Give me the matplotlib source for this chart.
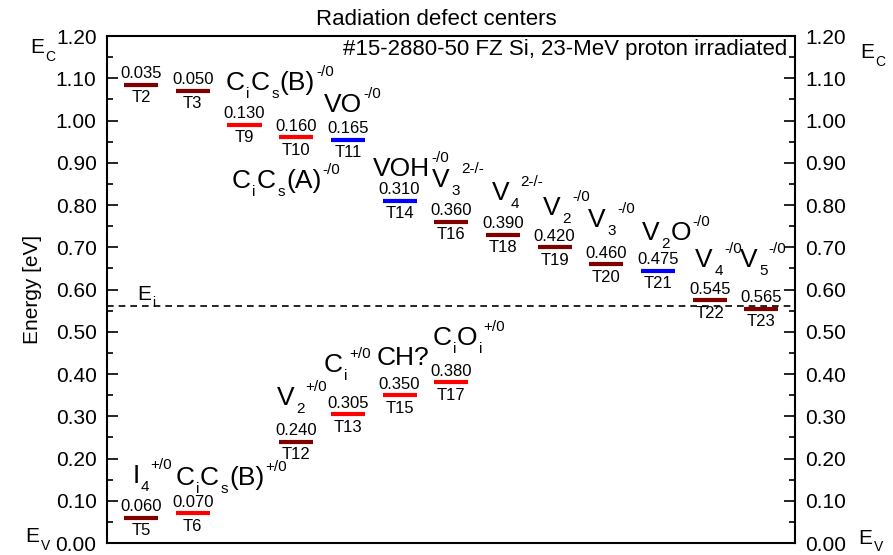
import matplotlib
matplotlib.use("Agg")
import matplotlib.pyplot as plt
from matplotlib.ticker import MultipleLocator, FormatStrFormatter

plt.rcParams['font.family'] = ['Liberation Sans', 'DejaVu Sans']

EG = 1.12
EI = 0.56

# electron traps (energy below Ec)
e_names = ["T2", "T3", "T9", "T10", "T11", "T14", "T16", "T18", "T19", "T20", "T21", "T22", "T23"]
e_depth = [0.035, 0.050, 0.130, 0.160, 0.165, 0.310, 0.360, 0.390, 0.420, 0.460, 0.475, 0.545, 0.565]
e_col = [0, 1, 2, 3, 4, 5, 6, 7, 8, 9, 10, 11, 12]
e_kind = ["d", "d", "r", "r", "b", "b", "d", "d", "d", "d", "b", "d", "d"]

# hole traps (energy above Ev)
h_names = ["T5", "T6", "T12", "T13", "T15", "T17"]
h_depth = [0.060, 0.070, 0.240, 0.305, 0.350, 0.380]
h_col = [0, 1, 3, 4, 5, 6]
h_kind = ["d", "r", "d", "r", "r", "r"]

colors = {"d": "#800000", "r": "#ff0000", "b": "#0000ff"}

# defect identification labels (text, x, y); _x = subscript, ^{..} = superscript
defects = [
    ("C_iC_s(B)^{-/0}", 1.64, 1.072),
    ("VO^{-/0}", 3.54, 1.020),
    ("C_iC_s(A)^{-/0}", 1.76, 0.840),
    ("VOH^{-/0}", 4.49, 0.869),
    ("V_3^{2-/-}", 5.63, 0.843),
    ("V_4^{2-/-}", 6.79, 0.812),
    ("V_2^{-/0}", 7.78, 0.776),
    ("V_3^{-/0}", 8.65, 0.748),
    ("V_2O^{-/0}", 9.69, 0.717),
    ("V_4^{-/0}", 10.72, 0.653),
    ("V_5^{-/0}", 11.59, 0.653),
    ("I_4^{+/0}", -0.17, 0.142),
    ("C_iC_s(B)^{+/0}", 0.66, 0.137),
    ("V_2^{+/0}", 2.63, 0.327),
    ("C_i^{+/0}", 3.54, 0.405),
    ("CH?", 4.56, 0.421),
    ("C_iO_i^{+/0}", 5.63, 0.469),
]

fig = plt.figure(figsize=(8.93, 5.55), dpi=100)
ax = fig.add_axes([0.1198, 0.0216, 0.7705, 0.9135])
renderer = fig.canvas.get_renderer()


def parse(s):
    out = []
    buf = ""
    i = 0
    while i < len(s):
        c = s[i]
        if c == "_":
            if buf:
                out.append((buf, "n"))
                buf = ""
            out.append((s[i + 1], "sub"))
            i += 2
        elif c == "^":
            if buf:
                out.append((buf, "n"))
                buf = ""
            j = s.index("}", i)
            out.append((s[i + 2:j], "sup"))
            i = j + 1
        else:
            buf += c
            i += 1
    if buf:
        out.append((buf, "n"))
    return out


# origin-style label: pieces written one after the other
def rich_text(x, y, s, size=19, small=11, sub_dy=-6, sup_dy=10, coords="data"):
    dx = 0
    for txt, kind in parse(s):
        if kind == "n":
            fs, dy = size, 0
        elif kind == "sub":
            fs, dy = small, sub_dy
        else:
            fs, dy = small, sup_dy
        t = ax.annotate(txt, (x, y), xycoords=coords, xytext=(dx, dy),
                        textcoords="offset points", fontsize=fs,
                        ha="left", va="baseline", annotation_clip=False)
        w = t.get_window_extent(renderer).width * 72 / fig.dpi
        dx += w + (1 if kind == "n" else 0.8)


hw = 0.33


def draw_level(x, y, depth, name, kind):
    ax.plot([x - hw, x + hw], [y, y], color=colors[kind], lw=3, solid_capstyle="butt")
    ax.annotate("%.3f" % depth, (x, y), xytext=(0, 2.5), textcoords="offset points",
                ha="center", va="bottom", fontsize=12)
    ax.annotate(name, (x, y), xytext=(0, -4), textcoords="offset points",
                ha="center", va="top", fontsize=12)


for n, d, c, k in zip(e_names, e_depth, e_col, e_kind):
    draw_level(c, EG - d, d, n, k)
for n, d, c, k in zip(h_names, h_depth, h_col, h_kind):
    draw_level(c, d, d, n, k)

ax.axhline(EI, color="black", ls=(0, (4, 3)), lw=1.2)

ax.set_xlim(-0.66, 12.65)
ax.set_ylim(0, 1.2)
ax.set_xticks([])

for txt, x, y in defects:
    rich_text(x, y, txt)

rich_text(-0.08, 0.575, "E_i", size=15, small=10, sub_dy=-5)
ax.text(0.988, 0.9625, "#15-2880-50 FZ Si, 23-MeV proton irradiated",
        transform=ax.transAxes, ha="right", va="baseline", fontsize=16)

ax.set_ylabel("Energy [eV]", fontsize=15, labelpad=10)

ax.yaxis.set_major_locator(MultipleLocator(0.1))
ax.yaxis.set_minor_locator(MultipleLocator(0.05))
ax.yaxis.set_major_formatter(FormatStrFormatter("%.2f"))
ax.tick_params(axis="y", which="both", direction="in", left=True, right=True,
               labelleft=True, labelright=True, labelsize=15, width=1.2, pad=7.5)
ax.tick_params(axis="y", which="major", length=8)
ax.tick_params(axis="y", which="minor", length=4)
for s in ax.spines.values():
    s.set_linewidth(1.5)

# band edge labels
tr = ax.get_yaxis_transform()
rich_text(-0.112, 1.16, "E_C", size=15, small=10, sub_dy=-6, coords=tr)
rich_text(-0.119, 0.0024, "E_V", size=15, small=10, sub_dy=-6, coords=tr)
rich_text(1.0945, 1.148, "E_C", size=15, small=10, sub_dy=-6, coords=tr)
rich_text(1.0916, -0.003, "E_V", size=15, small=10, sub_dy=-5, coords=tr)

fig.text(436 / 893, 1 - 25 / 555, "Radiation defect centers", ha="center", va="baseline", fontsize=16)

fig.savefig("out.png", dpi=100)
